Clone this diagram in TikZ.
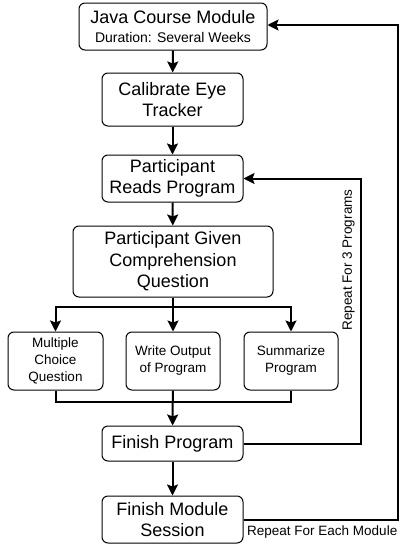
\documentclass[tikz,border=0pt]{standalone}
\usepackage{fontspec}
\setmainfont{Liberation Sans}
\usetikzlibrary{arrows.meta}
\begin{document}
\begin{tikzpicture}[x=1pt,y=-1pt,
  box/.style={draw, line width=1pt, rounded corners=6pt, align=center, inner sep=0pt},
  big/.style={box, font=\fontsize{18}{21.5}\selectfont},
  small/.style={box, font=\fontsize{13.5}{17}\selectfont},
  line/.style={line width=2pt},
  arr/.style={line, -{Stealth[length=11pt,width=11pt,inset=2pt]}},
  lab/.style={font=\fontsize{13.5}{16}\selectfont, inner sep=0pt}]
\useasboundingbox (0,0) rectangle (406,546);
\node[big, minimum width=188pt, minimum height=47pt] (b1) at (173,26.5)
  {Java Course Module\\[-2pt]{\fontsize{14}{16}\selectfont Duration: Several Weeks}};
\node[big, minimum width=141pt, minimum height=53pt] (b2) at (172.5,99.5) {Calibrate Eye\\Tracker};
\node[big, minimum width=141pt, minimum height=47pt] (b3) at (172.5,178.5) {Participant\\Reads Program};
\node[big, minimum width=200pt, minimum height=71pt] (b4) at (173,261.5) {Participant Given\\Comprehension\\Question};
\node[small, minimum width=95pt, minimum height=58pt] (b5) at (55.5,361) {Multiple\\Choice\\Question};
\node[small, minimum width=94pt, minimum height=58pt] (b6) at (173,361) {Write Output\\of Program};
\node[small, minimum width=94pt, minimum height=58pt] (b7) at (291,361) {Summarize\\Program};
\node[big, minimum width=141pt, minimum height=35pt] (b8) at (172.5,443.5) {Finish Program};
\node[big, minimum width=141pt, minimum height=47pt] (b9) at (172.5,519.5) {Finish Module\\Session};
\coordinate (br) at (173,307);
\coordinate (mg) at (173,402);
\coordinate (l1) at (360.5,0);
\coordinate (l2) at (397.5,0);
\draw[arr] (b1) -- (b2);
\draw[arr] (b2) -- (b3);
\draw[arr] (b3) -- (b4);
\draw[arr] (b4) -- (b6);
\draw[arr] (br) -| (b5);
\draw[arr] (br) -| (b7);
\draw[line] (b5) |- (mg);
\draw[line] (b7) |- (mg);
\draw[arr] (b6) -- (b8);
\draw[arr] (b8) -- (b9);
\draw[arr] (b8.east) -- (b8.east -| l1) |- (b3.east);
\draw[arr] (b9.east) -- (b9.east -| l2) |- ([yshift=1.5pt]b1.east);
\node[lab, rotate=90] (r1) at (348.5,260) {Repeat For 3 Programs};
\node[lab, anchor=west] (r2) at (247,532) {Repeat For Each Module};
\end{tikzpicture}
\end{document}
